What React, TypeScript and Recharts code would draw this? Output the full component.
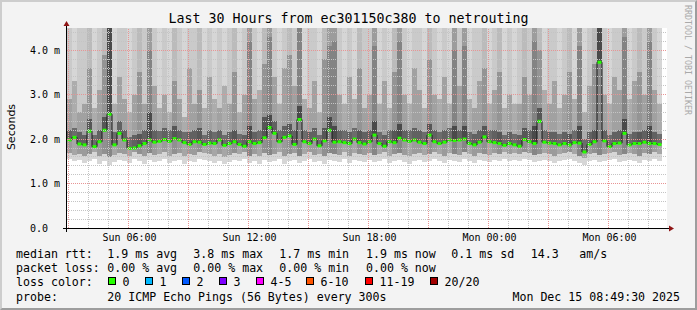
import React from "react";
import {
  Bar,
  CartesianGrid,
  Cell,
  ComposedChart,
  Line,
  ReferenceLine,
  XAxis,
  YAxis,
} from "recharts";

// 30 hour window, one column per 15 minutes (Sun 02:55 .. Mon 08:55)
const windowStartHour = 2.925;
const windowHours = 30;
const columnsPerHour = 4;
const TOP = 4.5;

// median rtt in ms
const median = [
  1.98, 2.04, 1.89, 1.87, 2.18, 1.83, 1.94, 2.2, 2.56, 1.87, 2.13, 1.98, 1.79, 1.8, 1.85, 1.9, 1.98, 1.93, 1.95, 1.99, 1.95, 2.01, 1.98, 1.92, 1.88, 1.94, 1.93, 1.88, 1.91, 1.9,
  1.98, 1.86, 1.9, 1.94, 1.88, 1.84, 1.94, 1.9, 1.92, 2.03, 2.26, 2.13, 1.94, 2.04, 2.07, 1.88, 2.44, 1.94, 1.9, 2.0, 1.85, 1.96, 2.2, 1.93, 1.94, 1.92, 1.9, 2.0, 1.92, 1.89,
  1.94, 2.09, 1.9, 1.84, 1.94, 1.92, 2.02, 1.98, 1.95, 1.98, 1.93, 1.9, 2.09, 1.94, 1.9, 1.93, 1.98, 1.97, 1.98, 2.0, 1.9, 1.87, 1.93, 2.05, 1.94, 1.92, 1.9, 1.86, 1.9, 1.87,
  1.84, 1.99, 1.94, 1.9, 2.4, 1.93, 1.91, 1.9, 1.87, 1.9, 1.87, 1.92, 1.91, 1.71, 1.88, 1.94, 3.73, 1.96, 1.83, 1.9, 1.91, 2.13, 1.87, 1.9, 1.9, 1.93, 1.9, 1.9, 1.88, null,
];

// lowest ping of each column
const lo = [
  1.55, 1.5, 1.52, 1.47, 1.5, 1.56, 1.45, 1.5, 1.42, 1.48, 1.52, 1.5, 1.46, 1.55, 1.5, 1.45, 1.52, 1.48, 1.5, 1.55, 1.47, 1.5, 1.53, 1.45, 1.5, 1.48, 1.55, 1.52, 1.5, 1.47,
  1.5, 1.44, 1.48, 1.52, 1.5, 1.55, 1.47, 1.5, 1.45, 1.52, 1.48, 1.5, 1.55, 1.45, 1.5, 1.52, 1.46, 1.5, 1.55, 1.48, 1.5, 1.45, 1.52, 1.5, 1.48, 1.55, 1.47, 1.52, 1.5, 1.48,
  1.52, 1.48, 1.5, 1.55, 1.47, 1.5, 1.52, 1.48, 1.45, 1.5, 1.53, 1.48, 1.5, 1.55, 1.5, 1.47, 1.52, 1.5, 1.48, 1.55, 1.5, 1.46, 1.52, 1.5, 1.48, 1.53, 1.5, 1.55, 1.5, 1.52,
  1.5, 1.55, 1.52, 1.48, 1.5, 1.53, 1.5, 1.46, 1.5, 1.52, 1.55, 1.5, 1.47, 1.42, 1.5, 1.53, 1.48, 1.5, 1.52, 1.55, 1.48, 1.5, 1.53, 1.5, 1.47, 1.52, 1.5, 1.55, 1.5, null,
];

// lower quartile-ish ping
const lo2 = [
  1.68, 1.65, 1.66, 1.62, 1.66, 1.7, 1.62, 1.66, 1.6, 1.64, 1.68, 1.66, 1.62, 1.7, 1.66, 1.62, 1.68, 1.64, 1.66, 1.7, 1.63, 1.66, 1.69, 1.62, 1.66, 1.64, 1.7, 1.68, 1.66, 1.63,
  1.66, 1.6, 1.64, 1.68, 1.66, 1.7, 1.63, 1.66, 1.62, 1.68, 1.64, 1.66, 1.7, 1.62, 1.66, 1.68, 1.62, 1.66, 1.7, 1.64, 1.66, 1.62, 1.68, 1.66, 1.64, 1.7, 1.63, 1.68, 1.66, 1.64,
  1.68, 1.64, 1.66, 1.7, 1.63, 1.66, 1.68, 1.64, 1.62, 1.66, 1.69, 1.64, 1.66, 1.7, 1.66, 1.63, 1.68, 1.66, 1.64, 1.7, 1.66, 1.62, 1.68, 1.66, 1.64, 1.69, 1.66, 1.7, 1.66, 1.68,
  1.66, 1.7, 1.68, 1.64, 1.66, 1.69, 1.66, 1.62, 1.66, 1.68, 1.7, 1.66, 1.63, 1.58, 1.66, 1.69, 1.64, 1.66, 1.68, 1.7, 1.64, 1.66, 1.69, 1.66, 1.63, 1.68, 1.66, 1.7, 1.66, null,
];

// upper quartile-ish ping
const hi = [
  2.2, 2.25, 2.15, 2.1, 2.45, 2.1, 2.2, 2.5, 4.5, 2.15, 2.4, 2.2, 2.05, 2.1, 2.12, 2.2, 2.6, 2.2, 2.18, 2.25, 2.2, 2.3, 2.2, 2.15, 2.15, 2.2, 2.25, 2.1, 2.2, 2.15,
  2.2, 2.1, 2.15, 2.2, 2.12, 2.1, 2.3, 2.15, 2.2, 2.5, 2.55, 2.4, 2.2, 2.3, 2.35, 2.2, 2.75, 2.2, 2.15, 2.25, 2.1, 2.25, 2.5, 2.3, 2.2, 2.2, 2.15, 2.25, 2.2, 2.15,
  2.2, 2.4, 2.15, 2.1, 2.2, 2.2, 2.35, 2.2, 2.2, 2.25, 2.2, 2.15, 2.35, 2.2, 2.15, 2.2, 2.25, 2.3, 2.2, 2.3, 2.15, 2.12, 2.2, 2.3, 2.2, 2.2, 2.15, 2.1, 2.15, 2.12,
  2.1, 2.25, 2.2, 2.3, 2.7, 2.2, 2.15, 2.15, 2.12, 2.15, 2.12, 2.2, 2.3, 2.0, 2.15, 2.2, 4.5, 2.2, 2.1, 2.15, 2.2, 2.45, 2.12, 2.15, 2.15, 2.2, 2.3, 2.15, 2.12, null,
];

// upper smoke edge below the clipped top
const mid = [
  2.9, 3.3, 2.6, 2.8, 3.6, 2.7, 3.1, 3.9, 4.5, 2.8, 3.4, 2.9, 2.6, 3.0, 3.5, 2.8, 4.0, 3.2, 2.7, 3.0, 2.6, 3.3, 2.9, 2.5, 3.6, 2.8, 3.1, 2.7, 3.4, 2.9,
  2.7, 3.2, 2.8, 3.5, 2.6, 3.0, 4.2, 2.9, 3.1, 3.7, 4.3, 3.4, 2.8, 3.6, 3.9, 3.2, 4.5, 2.9, 2.7, 3.3, 2.6, 3.8, 4.1, 4.2, 3.0, 2.8, 3.4, 2.9, 3.6, 2.7,
  3.0, 4.1, 2.8, 3.3, 2.7, 3.5, 4.2, 3.0, 2.8, 3.6, 3.1, 2.7, 3.8, 3.0, 2.9, 3.4, 2.8, 4.0, 3.2, 4.1, 2.9, 2.7, 3.3, 3.6, 2.8, 3.1, 3.5, 2.7, 3.0, 2.8,
  2.8, 3.4, 3.0, 4.2, 4.0, 3.1, 2.8, 3.3, 2.7, 3.0, 3.5, 2.9, 4.1, 2.6, 3.2, 3.7, 4.5, 3.0, 2.8, 3.4, 3.1, 4.3, 2.9, 3.3, 3.5, 3.0, 4.2, 3.1, 2.8, null,
];

// how many pings ran above the graph (0 few .. 3 most)
const density = [
  1, 0, 1, 1, 2, 0, 1, 2, 3, 0, 1, 1, 0, 1, 2, 1, 3, 1, 0, 1, 0, 2, 1, 0, 1, 1, 2, 0, 1, 0,
  1, 0, 1, 2, 0, 1, 3, 1, 0, 2, 3, 1, 0, 1, 2, 1, 3, 0, 1, 1, 0, 2, 3, 3, 1, 0, 1, 0, 2, 1,
  1, 3, 0, 1, 0, 2, 3, 1, 0, 1, 1, 0, 2, 1, 0, 1, 0, 3, 1, 3, 0, 1, 1, 2, 0, 1, 2, 0, 1, 0,
  1, 2, 1, 3, 2, 0, 1, 1, 0, 1, 2, 0, 3, 0, 1, 2, 3, 1, 0, 1, 1, 3, 0, 1, 2, 1, 3, 1, 0, 0,
];

const tickHours = [6, 12, 18, 24, 30];
const tickLabels = ["Sun 06:00", "Sun 12:00", "Sun 18:00", "Mon 00:00", "Mon 06:00"];
const majorHours = [3, 6, 9, 12, 15, 18, 21, 24, 27, 30];
const minorHours = [4, 5, 7, 8, 10, 11, 13, 14, 16, 17, 19, 20, 22, 23, 25, 26, 28, 29, 31, 32];
const yTicks = [0, 1, 2, 3, 4];
const yTickLabels = ["0.0", "1.0 m", "2.0 m", "3.0 m", "4.0 m"];
const minorLevels = [0.2, 0.4, 0.6, 0.8, 1.2, 1.4, 1.6, 1.8, 2.2, 2.4, 2.6, 2.8, 3.2, 3.4, 3.6, 3.8, 4.2, 4.4];
const majorLevels = [1, 2, 3, 4];

const lossLabels = ["0", "1", "2", "3", "4-5", "6-10", "11-19", "20/20"];
const lossColors = ["#26ff00", "#00b8ff", "#0059ff", "#7e00ff", "#ff00ff", "#ff5500", "#ff0000", "#a10000"];
const lossSwatchX = [108.5, 145.5, 182.5, 219.5, 256.5, 306.5, 365.5, 430.5];

const MONO = "'DejaVu Sans Mono', monospace";
const lowMidShade = ["#a6a6a6", "#9b9b9b", "#909090", "#868686"];
const darkShade = ["#6c6c6c", "#616161", "#565656", "#4a4a4a"];
const upMidShade = ["#acacac", "#a1a1a1", "#949494", "#838383"];
const upTopShade = ["#d6d6d6", "#cacaca", "#bbbbbb", "#9c9c9c"];

const rows = median.map((m, i) => {
  const t = windowStartHour + (i + 0.5) / columnsPerHour;
  if (m == null) return { t, median: null };
  return {
    t,
    median: m,
    base: lo[i],
    lowLight: lo2[i] - lo[i],
    lowMid: m - lo2[i],
    dark: hi[i] - m,
    upMid: mid[i] - hi[i],
    upTop: TOP - mid[i],
    tone: density[i],
  };
});

function XTick({ x, y, payload }: any) {
  const k = tickHours.indexOf(payload.value);
  return (
    <text x={x + 1} y={y + 13} textAnchor="middle" fontFamily={MONO} fontSize={10} fill="#000">
      {tickLabels[k]}
    </text>
  );
}

function YTick({ y, payload }: any) {
  const k = yTicks.indexOf(payload.value);
  return (
    <text x={30} y={y + 3.5} textAnchor="start" fontFamily={MONO} fontSize={10} fill="#000">
      {yTickLabels[k]}
    </text>
  );
}

function MedianDot(p: any) {
  if (p.value == null || p.cy == null) return <g key={p.index} />;
  return <rect key={p.index} x={p.cx - 2} y={p.cy - 1.5} width={4} height={3} fill="#26ff00" />;
}

const statLines = [
  {
    y: 257.5,
    parts: [
      [16, "median rtt:"],
      [107.3, "1.9 ms avg"],
      [193.3, "3.8 ms max"],
      [279.3, "1.7 ms min"],
      [366, "1.9 ms now"],
      [451.3, "0.1 ms sd"],
      [530.7, "14.3"],
      [579.3, "am/s"],
    ],
  },
  {
    y: 271.5,
    parts: [
      [16, "packet loss:"],
      [107.3, "0.00 % avg"],
      [193.3, "0.00 % max"],
      [279.3, "0.00 % min"],
      [366, "0.00 % now"],
    ],
  },
  { y: 286, parts: [[16, "loss color:"]] },
  {
    y: 300.5,
    parts: [
      [16, "probe:"],
      [107.3, "20 ICMP Echo Pings (56 Bytes) every 300s"],
    ],
  },
];

const gridProps: any = { isFront: true, zIndex: 1000 };

function shadeCells(shades: string[]) {
  return rows.map((r: any, k) => <Cell key={k} fill={shades[r.tone ?? 0]} />);
}

export default function App() {
  return (
    <div
      style={{
        position: "fixed",
        left: 0,
        top: 0,
        width: 697,
        height: 310,
        boxSizing: "border-box",
        background: "#f3f3f3",
        borderTop: "2px solid #cdcdcd",
        borderLeft: "2px solid #cdcdcd",
        borderRight: "2px solid #9d9d9d",
        borderBottom: "2px solid #9d9d9d",
        overflow: "hidden",
      }}
    >
      <style>{`.recharts-bar-rectangle path, .recharts-reference-line line { shape-rendering: crispEdges; }`}</style>
      <div style={{ position: "absolute", left: -2, top: -2 }}>
        <ComposedChart
          width={697}
          height={310}
          data={rows}
          margin={{ top: 28, right: 30, bottom: 62, left: 0 }}
          barGap={0}
        >
          <CartesianGrid horizontal={false} vertical={false} fill="#ffffff" />
          <XAxis
            dataKey="t"
            type="number"
            domain={[windowStartHour, windowStartHour + windowHours]}
            ticks={tickHours}
            interval={0}
            tick={<XTick />}
            tickLine={false}
            axisLine={false}
            tickSize={0}
            tickMargin={0}
            height={20}
            allowDataOverflow
          />
          <YAxis
            domain={[0, TOP]}
            ticks={yTicks}
            interval={0}
            tick={<YTick />}
            tickLine={false}
            axisLine={false}
            width={67}
            allowDataOverflow
          />
          <Bar dataKey="base" stackId="s" barSize={5} fill="transparent" isAnimationActive={false} />
          <Bar dataKey="lowLight" stackId="s" barSize={5} fill="#d6d6d6" isAnimationActive={false} />
          <Bar dataKey="lowMid" stackId="s" barSize={5} isAnimationActive={false}>
            {shadeCells(lowMidShade)}
          </Bar>
          <Bar dataKey="dark" stackId="s" barSize={5} isAnimationActive={false}>
            {shadeCells(darkShade)}
          </Bar>
          <Bar dataKey="upMid" stackId="s" barSize={5} isAnimationActive={false}>
            {shadeCells(upMidShade)}
          </Bar>
          <Bar dataKey="upTop" stackId="s" barSize={5} isAnimationActive={false}>
            {shadeCells(upTopShade)}
          </Bar>
          {minorHours.map((h) => (
            <ReferenceLine key={"mh" + h} x={h} stroke="#c4c4c4" strokeDasharray="1 1" {...gridProps} />
          ))}
          {minorLevels.map((v) => (
            <ReferenceLine key={"mv" + v} y={v} stroke="#c4c4c4" strokeDasharray="1 1" {...gridProps} />
          ))}
          {majorHours.map((h) => (
            <ReferenceLine key={"Mh" + h} x={h} stroke="#e89494" strokeDasharray="1 1" {...gridProps} />
          ))}
          {majorLevels.map((v) => (
            <ReferenceLine key={"Mv" + v} y={v} stroke="#e89494" strokeDasharray="1 1" {...gridProps} />
          ))}
          <Line
            dataKey="median"
            type="step"
            stroke="#1a1a1a"
            strokeWidth={1}
            dot={MedianDot}
            activeDot={false}
            isAnimationActive={false}
          />
        </ComposedChart>
      </div>
      <svg
        width={697}
        height={310}
        style={{ position: "absolute", left: -2, top: -2, pointerEvents: "none" }}
      >
        <text x={348.5} y={23} textAnchor="middle" fontFamily={MONO} fontSize={13.3} fill="#000">
          Last 30 Hours from ec301150c380 to netrouting
        </text>
        <text
          x={15}
          y={127}
          transform="rotate(-90 15 127)"
          textAnchor="middle"
          fontFamily="'DejaVu Sans', sans-serif"
          fontSize={11}
          fill="#000"
        >
          Seconds
        </text>
        <text
          x={684.5}
          y={5}
          transform="rotate(90 684.5 5)"
          textAnchor="start"
          fontFamily={MONO}
          fontSize={8.3}
          fill="#a9a9a9"
        >
          RRDTOOL / TOBI OETIKER
        </text>
        {/* axes with arrows */}
        <line x1={63} y1={228.5} x2={670} y2={228.5} stroke="#000" strokeWidth={1} />
        <polygon points="669,225.5 674,228.5 669,231.5" fill="#8f1515" />
        <line x1={66.5} y1={232} x2={66.5} y2={24} stroke="#000" strokeWidth={1} />
        <polygon points="63.5,26 66.5,21 69.5,26" fill="#8f1515" />
        {statLines.map((line, li) =>
          line.parts.map(([x, s], pi) => (
            <text key={li + "-" + pi} x={x as number} y={line.y} fontFamily={MONO} fontSize={11.6} fill="#000">
              {s as string}
            </text>
          )),
        )}
        {lossLabels.map((lab, k) => (
          <g key={lab}>
            <rect x={lossSwatchX[k]} y={277.5} width={7} height={7} fill={lossColors[k]} stroke="#000" strokeWidth={1} />
            <text x={lossSwatchX[k] + 14} y={286} fontFamily={MONO} fontSize={11.6} fill="#000">
              {lab}
            </text>
          </g>
        ))}
        <text x={680} y={300.5} textAnchor="end" fontFamily={MONO} fontSize={11.6} fill="#000">
          Mon Dec 15 08:49:30 2025
        </text>
      </svg>
    </div>
  );
}
